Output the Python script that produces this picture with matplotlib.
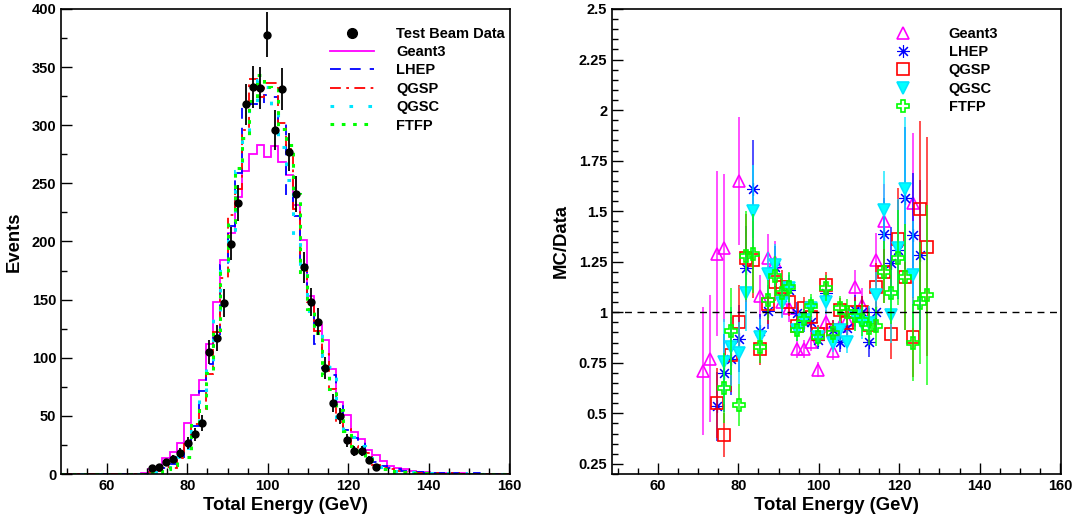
import numpy as np
import matplotlib.pyplot as plt
from matplotlib.lines import Line2D

plt.rcParams['font.family'] = ['Liberation Sans', 'DejaVu Sans']
plt.rcParams['font.weight'] = 'bold'

# 62 bins of 1.8 GeV between 48.6 and 160.2 GeV
nbins = 62
edges = np.arange(nbins + 1) * 1.8 + 48.6
first_mc_bin = 11   # bin centred on 69.3 GeV

# test beam data (bins 71.1 ... 126.9 GeV)
data_e = [71.1, 72.9, 74.7, 76.5, 78.3, 80.1, 81.9, 83.7, 85.5, 87.3, 89.1, 90.9,
          92.7, 94.5, 96.3, 98.1, 99.9, 101.7, 103.5, 105.3, 107.1, 108.9, 110.7,
          112.5, 114.3, 116.1, 117.9, 119.7, 121.5, 123.3, 125.1, 126.9]
data_n = [5, 6, 10, 13, 18, 27, 34, 44, 105, 117, 147, 198, 233, 318, 333, 332,
          378, 296, 331, 277, 241, 178, 148, 131, 91, 61, 50, 29, 20, 20, 12, 6]

# simulated histograms, from the 69.3 GeV bin upwards (rest empty)
h_geant3 = [1, 4, 6, 14, 19, 27, 44, 68, 81, 112, 148, 184, 207, 238, 261, 275,
            283, 273, 282, 268, 257, 231, 201, 153, 128, 115, 90, 62, 51, 36,
            30, 21, 16, 11, 7, 5, 4, 3, 2, 2, 1, 1, 1, 0, 1]
h_lhep = [0, 2, 3, 5, 9, 14, 23, 41, 71, 95, 118, 180, 213, 259, 316, 318, 317,
          326, 324, 302, 237, 222, 180, 148, 112, 91, 85, 62, 38, 31, 28, 15,
          10, 7, 5, 4, 3, 2, 2, 1, 1, 1, 0, 1, 0, 0, 1]
h_qgsp = [0, 2, 3, 6, 5, 14, 26, 43, 55, 86, 122, 169, 223, 245, 296, 340, 324,
          336, 336, 302, 280, 228, 178, 148, 123, 103, 73, 45, 39, 24, 18, 18,
          8, 5, 4, 3, 2, 2, 1, 1, 1, 0, 0, 1]
h_qgsc = [0, 1, 2, 4, 10, 15, 22, 37, 66, 92, 139, 181, 207, 261, 289, 320, 339,
          333, 312, 281, 253, 206, 174, 140, 124, 99, 92, 49, 38, 32, 24, 14, 8,
          6, 4, 3, 2, 2, 1, 1, 1, 0, 1, 0, 0, 1]
h_ftfp = [0, 1, 2, 4, 8, 16, 15, 44, 57, 87, 124, 173, 217, 263, 289, 321, 343,
          333, 332, 297, 283, 241, 174, 142, 121, 85, 73, 55, 37, 24, 17, 13, 7,
          4, 3, 2, 2, 1, 1, 1]

# MC/Data ratios at the data bins (nan: no marker drawn)
nan = np.nan
r_geant3 = [0.71, 0.77, 1.29, 1.32, nan, 1.65, nan, nan, 1.08, 1.27, 1.25, 1.05, 1.02,
            0.82, 0.82, 0.855, 0.715, 0.954, 0.806, 0.93, 0.96, 1.127, 1.036, nan, 1.26,
            1.45, nan, nan, nan, 1.54, nan, nan]
r_lhep = [nan, nan, 0.534, 0.70, 0.77, 0.87, 1.217, 1.61, 0.905, 1.008, 1.225, 1.077,
          1.11, 0.995, 0.954, 0.954, 0.863, 1.094, 0.913, 0.855, 0.92, 1.01, 1.0, 0.855,
          1.0, 1.386, 1.245, 1.31, 1.565, 1.38, 1.283, nan]
r_qgsp = [nan, nan, 0.55, 0.394, 0.79, 0.95, 1.267, 1.26, 0.817, 1.04, 1.15, 1.127, 1.05,
          0.93, 1.02, 0.975, 0.89, 1.135, 0.913, 1.01, 0.946, 1.0, 1.0, 0.937, 1.127, 1.2,
          0.893, 1.36, 1.176, 0.877, 1.51, 1.325]
r_qgsc = [nan, nan, nan, 0.756, 0.83, 0.80, 1.094, 1.50, 0.88, 1.19, 1.234, 1.045, 1.12,
          0.91, 0.96, 1.02, 0.88, 1.053, 0.85, 0.913, 0.855, 0.98, 0.946, 0.946, 1.086,
          1.506, 0.985, 1.316, 1.608, 1.185, nan, nan]
r_ftfp = [nan, nan, nan, 0.624, 0.905, 0.54, 1.28, 1.29, 0.83, 1.06, 1.18, 1.094, 1.127,
          0.91, 0.965, 1.033, 0.88, 1.12, 0.896, 1.02, 1.0, 0.98, 0.96, 0.92, 0.93, 1.2,
          1.097, 1.27, 1.176, 0.85, 1.044, 1.086]

models = ['Geant3', 'LHEP', 'QGSP', 'QGSC', 'FTFP']
colors = ['#ff00ff', '#0000ff', '#ff0000', '#00e5ff', '#00ff00']
hists = [h_geant3, h_lhep, h_qgsp, h_qgsc, h_ftfp]
ratios = [r_geant3, r_lhep, r_qgsp, r_qgsc, r_ftfp]
lstyles = ['-', (0, (6, 5)), (0, (6, 3, 1.5, 3)), (0, (1.2, 5)), (0, (1.2, 2.5))]
lwidths = [1.3, 1.3, 1.3, 2.2, 2.2]
markers = ['^', (8, 2, 0), 's', 'v', 'P']
mfcs = ['none', 'none', 'none', '#00ffff', 'none']
msizes = [9, 9, 8, 8, 9]
mews = [1.2, 0.8, 1.2, 1.2, 1.2]


def full_hist(vals):
    h = np.zeros(nbins)
    h[first_mc_bin:first_mc_bin + len(vals)] = vals
    return h


fig = plt.figure(figsize=(10.79, 5.22), dpi=100)
ax1 = fig.add_axes([61 / 1079, 48 / 522, 449 / 1079, 465 / 522])
ax2 = fig.add_axes([612 / 1079, 48 / 522, 449 / 1079, 465 / 522])

# left: energy distributions
for h, c, ls, lw in zip(hists, colors, lstyles, lwidths):
    ax1.stairs(full_hist(h), edges, color=c, linestyle=ls, linewidth=lw)
ax1.errorbar(data_e, data_n, yerr=np.sqrt(data_n), fmt='o', color='black', ms=5,
             elinewidth=1.3, capsize=0, zorder=5)

ax1.set_xlim(edges[0], edges[-1])
ax1.set_ylim(0, 400)
ax1.set_xticks([60, 80, 100, 120, 140, 160])
ax1.set_xticks(np.arange(50, 161, 5), minor=True)
ax1.set_yticks(np.arange(0, 401, 50))
ax1.set_yticks(np.arange(0, 401, 25), minor=True)
ax1.set_xlabel('Total Energy (GeV)', fontsize=13.3, fontweight='bold', labelpad=3)
ax1.set_ylabel('Events', fontsize=13.3, fontweight='bold', labelpad=6)

leg_h = [Line2D([], [], color='black', marker='o', ms=7, ls='none')]
for c, ls, lw in zip(colors, lstyles, lwidths):
    leg_h.append(Line2D([], [], color=c, ls=ls, lw=lw))
ax1.legend(leg_h, ['Test Beam Data'] + models, loc='upper left',
           bbox_to_anchor=(0.6, 0.962), frameon=False, fontsize=10.5,
           handlelength=3.0, handletextpad=1.5, labelspacing=0.3,
           borderpad=0, borderaxespad=0)

# right: MC / data ratios
data_f = np.array(data_n, dtype=float)
for r, c, m, mfc, ms, mew in zip(ratios, colors, markers, mfcs, msizes, mews):
    r = np.array(r)
    ax2.errorbar(data_e, r, yerr=r / np.sqrt(data_f), fmt='none', ecolor=c,
                 elinewidth=1.3, capsize=0, alpha=0.75)
    ax2.plot(data_e, r, ls='none', marker=m, ms=ms, mec=c, mfc=mfc, mew=mew)
ax2.axhline(1.0, color='black', ls=(0, (5, 4)), lw=1)

ax2.set_xlim(edges[0], edges[-1])
ax2.set_ylim(0.2, 2.5)
ax2.set_xticks([60, 80, 100, 120, 140, 160])
ax2.set_xticks(np.arange(50, 161, 5), minor=True)
ax2.set_yticks(np.arange(0.25, 2.51, 0.25))
ax2.set_yticks(np.arange(0.2, 2.51, 0.05), minor=True)
ax2.set_yticklabels(['%g' % v for v in np.arange(0.25, 2.51, 0.25)])
ax2.set_xlabel('Total Energy (GeV)', fontsize=13.3, fontweight='bold', labelpad=3)
ax2.set_ylabel('MC/Data', fontsize=13.3, fontweight='bold', labelpad=6)

leg2_h = [Line2D([], [], ls='none', marker=m, ms=ms, mec=c, mfc=mfc, mew=mew)
          for c, m, mfc, ms, mew in zip(colors, markers, mfcs, msizes, mews)]
ax2.legend(leg2_h, models, loc='upper left', bbox_to_anchor=(0.6036, 0.962),
           frameon=False, fontsize=10.5, handlelength=2.7, handletextpad=1.8,
           labelspacing=0.3, borderpad=0, borderaxespad=0)

for ax in (ax1, ax2):
    ax.tick_params(which='both', direction='in', top=False, right=False,
                   labelsize=10.5, width=1)
    ax.tick_params(which='major', length=8)
    ax.tick_params(which='minor', length=4)
    for lbl in ax.get_xticklabels() + ax.get_yticklabels():
        lbl.set_fontweight('bold')
    for s in ax.spines.values():
        s.set_linewidth(1.2)

fig.savefig('out.png', dpi=100)
